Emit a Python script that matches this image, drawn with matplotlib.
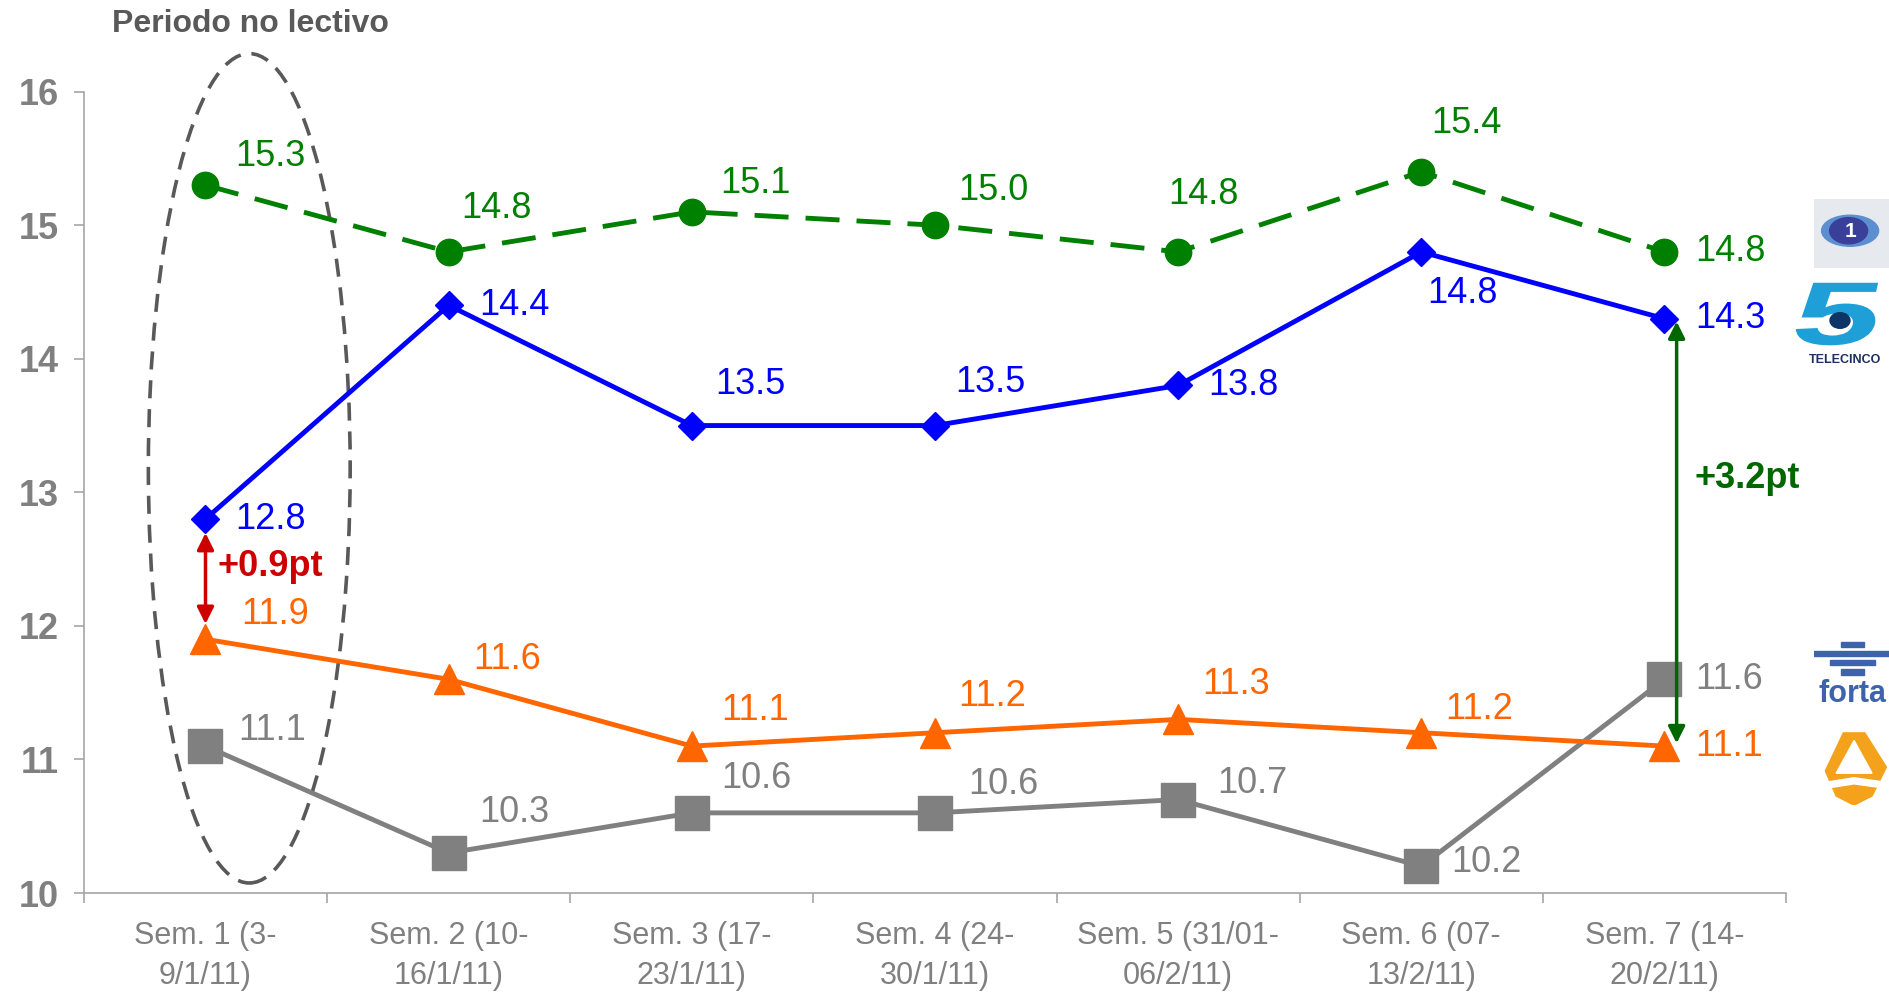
import matplotlib
matplotlib.use('Agg')
import matplotlib.pyplot as plt
from matplotlib.patches import Ellipse, Polygon, Rectangle, PathPatch
from matplotlib.textpath import TextPath
from matplotlib.font_manager import FontProperties
from matplotlib.transforms import Affine2D
import numpy as np

plt.rcParams['font.family'] = ['Liberation Sans', 'DejaVu Sans']

# datos
semanas = ['Sem. 1 (3-\n9/1/11)', 'Sem. 2 (10-\n16/1/11)', 'Sem. 3 (17-\n23/1/11)',
           'Sem. 4 (24-\n30/1/11)', 'Sem. 5 (31/01-\n06/2/11)', 'Sem. 6 (07-\n13/2/11)',
           'Sem. 7 (14-\n20/2/11)']
tve1 = [15.3, 14.8, 15.1, 15.0, 14.8, 15.4, 14.8]
telecinco = [12.8, 14.4, 13.5, 13.5, 13.8, 14.8, 14.3]
antena3 = [11.9, 11.6, 11.1, 11.2, 11.3, 11.2, 11.1]
forta = [11.1, 10.3, 10.6, 10.6, 10.7, 10.2, 11.6]

# label offsets in pixels (dx, dy)
off_tve1 = [(30, 29), (13, 43), (28, 28), (23, 35), (-10, 57), (10, 48), (31, 0)]
off_t5 = [(30, 0), (31, 0), (23, 41), (20, 43), (30, 0), (6, -42), (31, 0)]
off_a3 = [(36, 25), (25, 20), (29, 36), (23, 36), (24, 35), (24, 23), (31, 0)]
off_forta = [(33, 16), (31, 40), (29, 34), (33, 28), (39, 16), (30, 4), (31, 0)]

fig = plt.figure(figsize=(18.9, 9.94), dpi=100)
ax = fig.add_axes([0.0444, 0.1016, 0.9006, 0.8062])
x = np.arange(len(semanas))

series = [
    (forta, '#808080', 's', 25, '-', off_forta),
    (antena3, '#FF6600', '^', 22, '-', off_a3),
    (telecinco, '#0000FF', 'D', 14, '-', off_t5),
    (tve1, '#008000', 'o', 19, (0, (7, 3.5)), off_tve1),
]
for vals, col, mk, ms, ls, offs in series:
    ax.plot(x, vals, color=col, lw=3.5, ls=ls, marker=mk, ms=ms, zorder=3)
    for xi, v, o in zip(x, vals, offs):
        ax.annotate('%.1f' % v, (xi, v), xytext=o, textcoords='offset pixels',
                    ha='left', va='center', fontsize=26, color=col, zorder=4)

# diferencias
ax.annotate('', xy=(0, antena3[0]), xytext=(0, telecinco[0]),
            arrowprops=dict(arrowstyle='<|-|>', color='#CC0000', lw=2.5,
                            shrinkA=10, shrinkB=11, mutation_scale=25), zorder=5)
ax.text(0.05, 12.445, '+0.9pt', color='#CC0000', fontsize=26, fontweight='bold',
        ha='left', va='center')
ax.annotate('', xy=(6.05, antena3[6]), xytext=(6.05, telecinco[6]),
            arrowprops=dict(arrowstyle='<|-|>', color='#006600', lw=2.5,
                            shrinkA=2, shrinkB=2, mutation_scale=25), zorder=5)
ax.text(6.124, 13.1, '+3.2pt', color='#006600', fontsize=26, fontweight='bold',
        ha='left', va='center')

# periodo no lectivo
ell = Ellipse((0.18, 13.18), width=0.83, height=6.21, fill=False, ec='#595959',
              lw=2.6, ls=(0, (5, 3)), clip_on=False, zorder=2)
ax.add_patch(ell)
fig.text(0.0593, 0.976, 'Periodo no lectivo', fontsize=23, fontweight='bold',
         color='#595959', ha='left', va='center')

ax.set_xlim(-0.5, 6.5)
ax.set_ylim(10, 16)
ax.set_xticks(x)
ax.set_xticklabels(semanas, fontsize=22, color='#808080', linespacing=1.45)
ax.set_xticks(np.arange(-0.5, 7, 1), minor=True)
ax.tick_params(axis='x', which='major', length=0, pad=20)
ax.tick_params(axis='x', which='minor', length=7, color='#a6a6a6', width=1.2)
ax.set_yticks(range(10, 17))
ax.tick_params(axis='y', length=7, color='#a6a6a6', width=1.2, pad=11)
for t in ax.get_yticklabels():
    t.set_fontsize(26)
    t.set_fontweight('bold')
    t.set_color('#808080')
for s in ['top', 'right']:
    ax.spines[s].set_visible(False)
for s in ['left', 'bottom']:
    ax.spines[s].set_color('#a6a6a6')
    ax.spines[s].set_linewidth(1.2)

# logos (aproximados)
l1 = fig.add_axes([0.960, 0.7304, 0.0402, 0.0694])
l1.set_xlim(0, 1); l1.set_ylim(0, 1); l1.axis('off')
l1.add_patch(Rectangle((0, 0), 1, 1, color='#e6eaee'))
l1.add_patch(Ellipse((0.47, 0.54), 0.75, 0.45, color='#5b8fd0'))
l1.add_patch(Ellipse((0.45, 0.54), 0.5, 0.38, color='#3a3f9a'))
l1.text(0.47, 0.53, '1', color='white', fontsize=15, fontweight='bold', ha='center', va='center')

l5 = fig.add_axes([1790 / 1890, 1 - 372 / 994, 100 / 1890, 92 / 994])
l5.set_xlim(0, 1); l5.set_ylim(0, 1); l5.axis('off')
tp = TextPath((0, 0), '5', size=1, prop=FontProperties(family='Liberation Sans', weight='bold'))
ext = tp.get_extents()
tr = (Affine2D().translate(-ext.x0, -ext.y0)
      .scale(0.78 / ext.width, 0.68 / ext.height).skew_deg(12, 0).translate(0.02, 0.29))
l5.add_patch(PathPatch(tr.transform_path(tp), color='#1e9fd8', lw=0))
l5.add_patch(Ellipse((0.5, 0.56), 0.2, 0.17, color='#0d3566'))
l5.text(0.55, 0.13, 'TELECINCO', color='#1c2f5e', fontsize=9, fontweight='bold',
        ha='center', va='center')

lf = fig.add_axes([0.960, 0.2907, 0.0402, 0.0664])
lf.set_xlim(0, 1); lf.set_ylim(0, 1); lf.axis('off')
for yy, x0, x1 in [(0.92, 0.35, 0.65), (0.78, 0.0, 1.0), (0.64, 0.2, 0.8), (0.5, 0.35, 0.65)]:
    lf.add_patch(Rectangle((x0, yy - 0.04), x1 - x0, 0.08, color='#3e63ad'))
lf.text(0.5, 0.16, 'forta', color='#3e63ad', fontsize=22, fontweight='bold', ha='center', va='center')

la = fig.add_axes([0.962, 0.190, 0.038, 0.0765])
la.set_xlim(0, 1); la.set_ylim(0, 1); la.axis('off')
la.add_patch(Polygon([(0.1, 0.45), (0.35, 0.95), (0.65, 0.95), (0.95, 0.5), (0.75, 0.12),
                      (0.5, 0.0), (0.25, 0.12)], closed=True, color='#f4a21b'))
la.add_patch(Polygon([(0.5, 0.85), (0.25, 0.42), (0.75, 0.42)], closed=True, color='white'))
la.add_patch(Polygon([(0.1, 0.3), (0.5, 0.36), (0.95, 0.3), (0.95, 0.22), (0.5, 0.28),
                      (0.1, 0.22)], closed=True, color='white'))

fig.savefig('out.png', dpi=100)
